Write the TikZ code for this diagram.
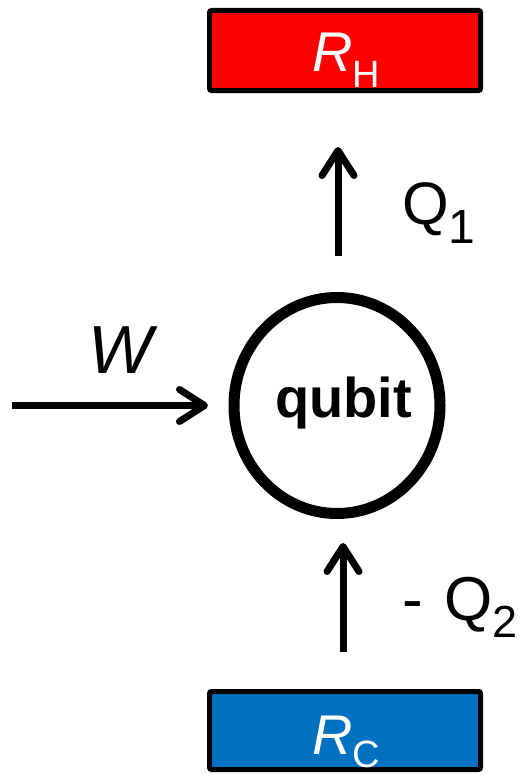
\documentclass[tikz,border=0pt]{standalone}
\usepackage{fontspec}
\setmainfont{Liberation Sans}
\usetikzlibrary{arrows.meta,shapes.geometric}
\definecolor{hotred}{RGB}{255,0,0}
\definecolor{coldblue}{RGB}{0,112,192}
\begin{document}
\begin{tikzpicture}[x=1bp,y=-1bp,
  reservoir/.style={draw=black,line width=5bp,rounded corners=2bp,minimum width=271bp,inner sep=0pt},
  qubitshape/.style={draw=black,ellipse,line width=11bp,minimum width=206bp,minimum height=216bp,inner sep=0pt},
  flow/.style={line width=7bp,-{Straight Barb[length=25bp,width=32bp,round]}},
  lbl/.style={inner sep=0pt,outer sep=0pt}]
\useasboundingbox (0,0) rectangle (525,775);
% reservoirs
\node[reservoir,fill=hotred,minimum height=80bp] (rh) at (345,50.5) {};
\node[reservoir,fill=coldblue,minimum height=78bp] (rc) at (345,730.5) {};
\node[lbl,anchor=base west,text=white] (rhlbl) at (312,72)
  {{\fontsize{56bp}{60bp}\selectfont\itshape R}{\fontsize{38bp}{40bp}\selectfont\raisebox{-15bp}{H}}};
\node[lbl,anchor=base west,text=white] (rclbl) at (312,754)
  {{\fontsize{56bp}{60bp}\selectfont\itshape R}{\fontsize{38bp}{40bp}\selectfont\raisebox{-13bp}{C}}};
% qubit
\node[qubitshape] (qb) at (337,405.5) {};
\node[lbl,anchor=base] (qblbl) at (343.5,417) {\fontsize{56bp}{60bp}\selectfont\bfseries qubit};
% flow endpoints
\coordinate (wstart) at (12,405.5);
\coordinate (wend) at (208,405.5);
\coordinate (q1start) at (338,256);
\coordinate (q1end) at (338,147);
\coordinate (q2start) at (343,652);
\coordinate (q2end) at (343,543);
\draw[flow] (wstart) -- (wend);
\draw[flow] (q1start) -- (q1end);
\draw[flow] (q2start) -- (q2end);
% labels
\node[lbl,anchor=base] (wlbl) at (121,373) {\fontsize{68bp}{70bp}\selectfont\itshape W};
\node[lbl,anchor=base west] (q1lbl) at (402,224)
  {{\fontsize{60bp}{62bp}\selectfont Q}{\fontsize{48bp}{50bp}\selectfont\raisebox{-19bp}{1}}};
\node[lbl,anchor=base west] (q2lbl) at (402,620)
  {{\fontsize{62bp}{64bp}\selectfont -\hspace{22bp}Q}{\fontsize{45bp}{47bp}\selectfont\raisebox{-17bp}{2}}};
\end{tikzpicture}
\end{document}
